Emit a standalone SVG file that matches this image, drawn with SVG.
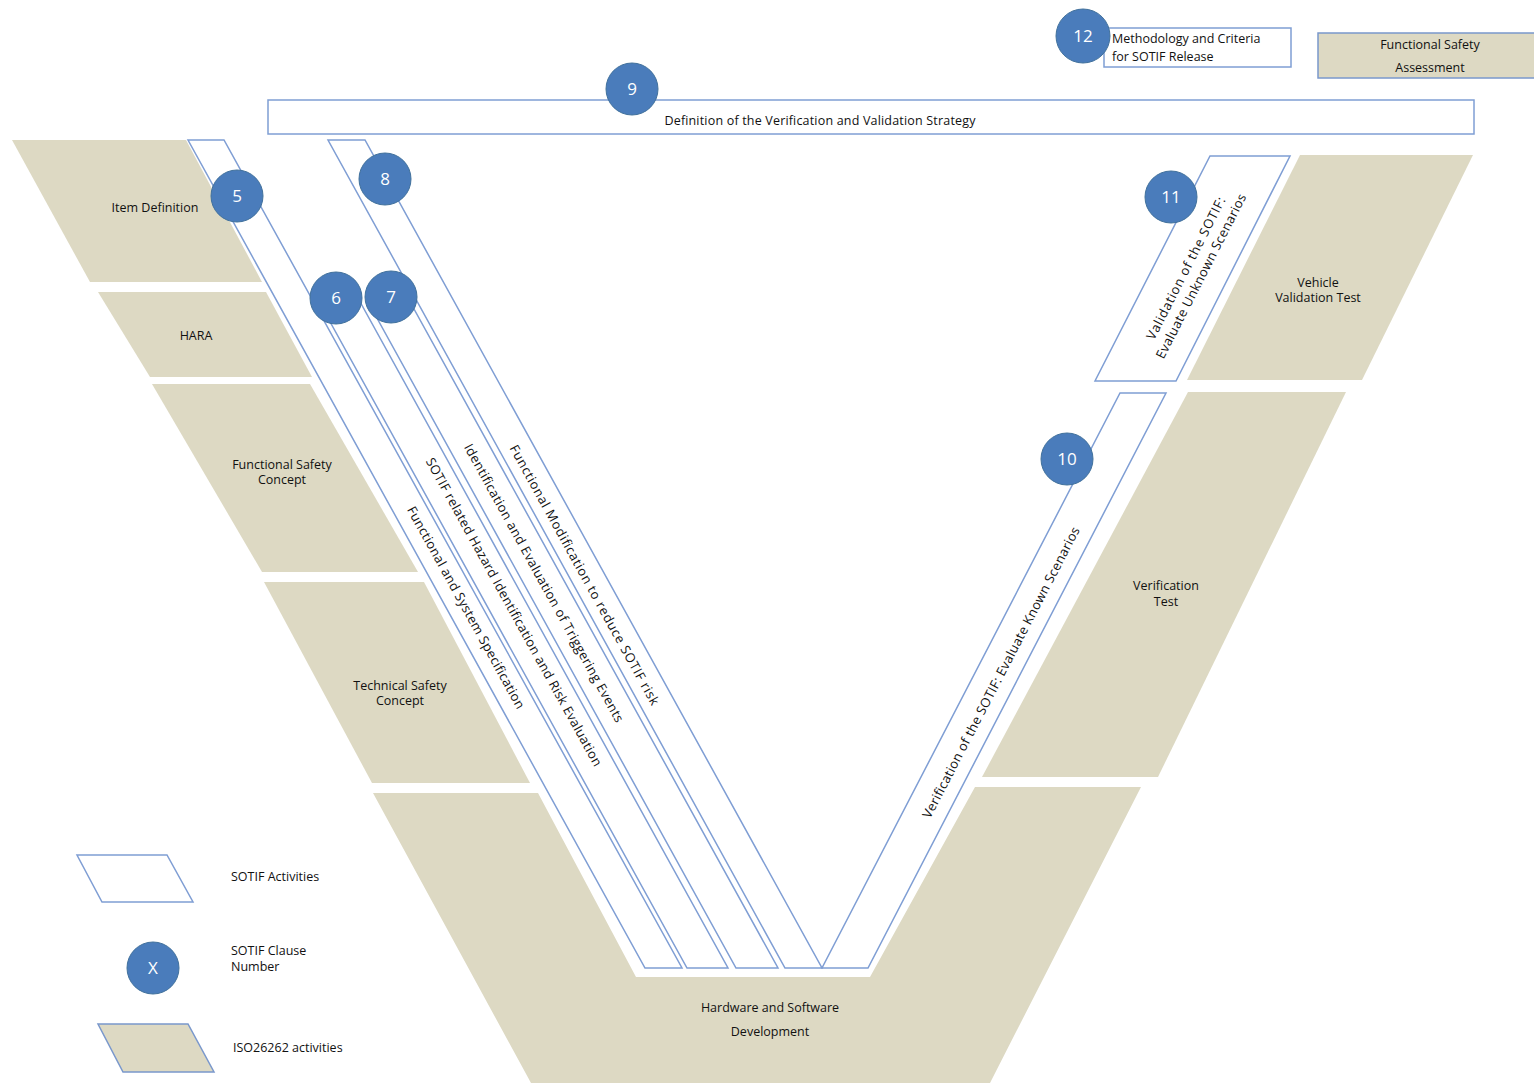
<svg xmlns="http://www.w3.org/2000/svg" width="1534" height="1083" viewBox="0 0 1534 1083">
<defs>
<style>
.tan{fill:#DDD9C3}
.tanb{fill:#DDD9C3;stroke:#7A98CC;stroke-width:1.5}
.act{fill:#FFFFFF;stroke:#7F9ED4;stroke-width:1.5}
.num circle{fill:#4A7CBB;stroke:#41719C;stroke-width:1}
.num text{fill:#FFFFFF;font-family:"Open Sans","Noto Sans",sans-serif;font-size:17px;text-anchor:middle}
.lbl{font-family:"Open Sans","Noto Sans",sans-serif;font-size:12.5px;fill:#111111}
.c{text-anchor:middle}
.rot{font-family:"Open Sans","Noto Sans",sans-serif;font-size:13px;fill:#111111;text-anchor:middle}
</style>
</defs>
<rect width="1534" height="1083" fill="#FFFFFF"/>

<!-- ISO 26262 activities (tan) -->
<g id="item-definition">
<polygon class="tan" points="12,140 186,140 262,282 90,282"/>
<text class="lbl c" x="155" y="212">Item Definition</text>
</g>
<g id="hara">
<polygon class="tan" points="98,292 266,292 312,377 150,377"/>
<text class="lbl c" x="196" y="340">HARA</text>
</g>
<g id="functional-safety-concept">
<polygon class="tan" points="152,384 310,384 418,572 262,572"/>
<text class="lbl c" x="282" y="469">Functional Safety</text>
<text class="lbl c" x="282" y="484">Concept</text>
</g>
<g id="technical-safety-concept">
<polygon class="tan" points="264,582 424,582 530,783 372,783"/>
<text class="lbl c" x="400" y="690">Technical Safety</text>
<text class="lbl c" x="400" y="705">Concept</text>
</g>
<g id="hw-sw-development">
<polygon class="tan" points="373,793 538,793 636,977 870,977 975,787 1141,787 990,1083 531,1083"/>
<text class="lbl c" x="770" y="1012">Hardware and Software</text>
<text class="lbl c" x="770" y="1036">Development</text>
</g>
<g id="verification-test">
<polygon class="tan" points="1188,392 1346,392 1158,777 982,777"/>
<text class="lbl c" x="1166" y="590">Verification</text>
<text class="lbl c" x="1166" y="606">Test</text>
</g>
<g id="vehicle-validation-test">
<polygon class="tan" points="1300,155 1473,155 1362,380 1187,380"/>
<text class="lbl c" x="1318" y="287">Vehicle</text>
<text class="lbl c" x="1318" y="302">Validation Test</text>
</g>
<g id="functional-safety-assessment">
<rect class="tanb" x="1318" y="33" width="220" height="45"/>
<text class="lbl c" x="1430" y="49">Functional Safety</text>
<text class="lbl c" x="1430" y="72">Assessment</text>
</g>

<!-- SOTIF activities -->
<g id="vv-strategy">
<rect class="act" x="268" y="100" width="1206" height="34"/>
<text class="lbl c" x="820" y="125" textLength="311">Definition of the Verification and Validation Strategy</text>
</g>
<g id="release-criteria">
<rect class="act" x="1104" y="28" width="187" height="39"/>
<text class="lbl" x="1112" y="43">Methodology and Criteria</text>
<text class="lbl" x="1112" y="61">for SOTIF Release</text>
</g>
<g id="spec">
<polygon class="act" points="188,140 224,140 682,968 645,968"/>
<text class="rot" transform="translate(466,607.5) rotate(61.1)" dy="0.35em" textLength="229">Functional and System Specification</text>
</g>
<g id="hazard">
<polygon class="act" points="318,300 359,300 728,968 687,968"/>
<text class="rot" transform="translate(514,612) rotate(61.1)" dy="0.35em" textLength="350">SOTIF related Hazard Identification and Risk Evaluation</text>
</g>
<g id="triggering">
<polygon class="act" points="367,300 409,300 778,968 736,968"/>
<text class="rot" transform="translate(544,583) rotate(61.1)" dy="0.35em" textLength="316">Identification and Evaluation of Triggering Events</text>
</g>
<g id="modification">
<polygon class="act" points="328,140 365,140 822,968 785,968"/>
<text class="rot" transform="translate(584.5,575) rotate(61.1)" dy="0.35em" textLength="295">Functional Modification to reduce SOTIF risk</text>
</g>
<g id="verification">
<polygon class="act" points="1120,393 1166,393 868,968 822,968"/>
<text class="rot" transform="translate(1001,672.5) rotate(-62.6)" dy="0.35em" textLength="326">Verification of the SOTIF: Evaluate Known Scenarios</text>
</g>
<g id="validation">
<polygon class="act" points="1210,156 1290,156 1176,381 1095,381"/>
<g transform="translate(1193,272) rotate(-63)">
<text class="rot" y="-8" dy="0.35em" textLength="158">Validation of the SOTIF:</text>
<text class="rot" y="9" dy="0.35em" textLength="183">Evaluate Unknown Scenarios</text>
</g>
</g>

<g id="connectors"></g>

<!-- clause numbers -->
<g id="clause-5" class="num"><circle cx="237" cy="196" r="26"/><text x="237" y="202">5</text></g>
<g id="clause-6" class="num"><circle cx="336" cy="298" r="26"/><text x="336" y="304">6</text></g>
<g id="clause-7" class="num"><circle cx="391" cy="297" r="26"/><text x="391" y="303">7</text></g>
<g id="clause-8" class="num"><circle cx="385" cy="179" r="26"/><text x="385" y="185">8</text></g>
<g id="clause-9" class="num"><circle cx="632" cy="89" r="26"/><text x="632" y="95">9</text></g>
<g id="clause-10" class="num"><circle cx="1067" cy="459" r="26"/><text x="1067" y="465">10</text></g>
<g id="clause-11" class="num"><circle cx="1171" cy="197" r="26"/><text x="1171" y="203">11</text></g>
<g id="clause-12" class="num"><circle cx="1083" cy="36" r="27"/><text x="1083" y="42">12</text></g>

<!-- legend -->
<g id="legend-sotif-activities">
<polygon class="act" points="77,855 167,855 193,902 102,902"/>
<text class="lbl" x="231" y="881">SOTIF Activities</text>
</g>
<g id="legend-clause" class="num">
<circle cx="153" cy="968" r="26"/><text x="153" y="974">X</text>
</g>
<g id="legend-clause-label">
<text class="lbl" x="231" y="955">SOTIF Clause</text>
<text class="lbl" x="231" y="971">Number</text>
</g>
<g id="legend-iso">
<polygon class="tanb" points="98,1024 188,1024 214,1072 123,1072"/>
<text class="lbl" x="233" y="1052">ISO26262 activities</text>
</g>
</svg>
